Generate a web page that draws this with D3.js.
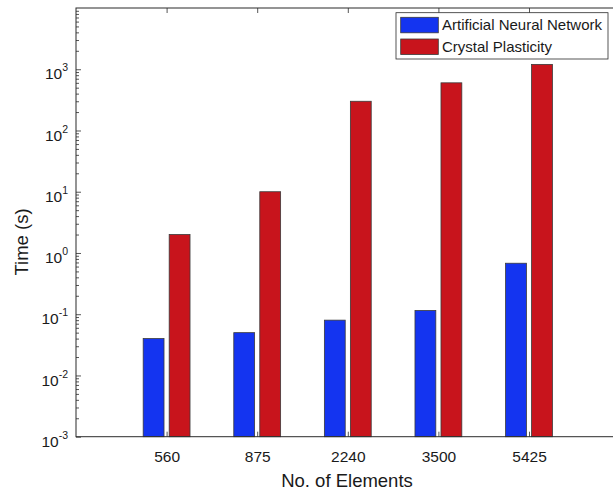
<!DOCTYPE html>
<html>
<head>
<meta charset="utf-8">
<script src="https://cdn.jsdelivr.net/npm/d3@7"></script>
<style>
  html, body { margin: 0; padding: 0; background: #fff; }
  svg { display: block; font-family: "Liberation Sans", Arial, Helvetica, sans-serif; }
</style>
</head>
<body>
<svg id="chart" width="613" height="492"></svg>
<script>
// Run time comparison, log scale
const categories = ["560", "875", "2240", "3500", "5425"];
const seriesNames = ["Artificial Neural Network", "Crystal Plasticity"];
const annTimes = [0.04, 0.05, 0.08, 0.115, 0.68];
const cpTimes = [2, 10, 300, 600, 1200];
const yTickExponents = [-3, -2, -1, 0, 1, 2, 3];

const colors = ["#1434f0", "#c8141c"];
const series = [annTimes, cpTimes];

const svg = d3.select("#chart");
const plotLeft = 76, plotTop = 8, plotBottom = 436.7;
const unit = 90.6;                       // px per category step
const plotRight = plotLeft + 6 * unit;   // box extends past the page edge

const x = d3.scaleLinear().domain([0, 6]).range([plotLeft, plotRight]);
const y = d3.scaleLog().domain([1e-3, 1e4]).range([plotBottom, plotTop]);

const axisColor = "#2b2b2b";

// bars
const barW = 0.23, offs = [-0.1435, 0.1435];
series.forEach((vals, s) => {
  svg.append("g").selectAll("rect")
    .data(vals)
    .join("rect")
    .attr("x", (d, i) => x(i + 1 + offs[s] - barW / 2))
    .attr("width", x(barW) - x(0))
    .attr("y", d => y(d))
    .attr("height", d => y(1e-3) - y(d))
    .attr("fill", colors[s])
    .attr("stroke", "#3a3a3a")
    .attr("stroke-width", 0.8);
});

// minor log ticks on the y axis
const minors = [];
for (let e = -3; e < 4; e++) for (let m = 2; m <= 9; m++) minors.push(m * Math.pow(10, e));
svg.append("g")
  .attr("transform", `translate(${plotLeft},0)`)
  .call(d3.axisLeft(y).tickValues(minors).tickSize(-3).tickFormat(""))
  .call(g => g.select(".domain").remove())
  .call(g => g.selectAll("line").attr("stroke", axisColor).attr("stroke-width", 0.8));

// major y ticks with 10^n labels
const yAxis = svg.append("g")
  .attr("transform", `translate(${plotLeft},0)`)
  .call(d3.axisLeft(y)
    .tickValues(yTickExponents.map(e => Math.pow(10, e)))
    .tickSize(-5).tickPadding(8).tickFormat(""));
yAxis.select(".domain").remove();
yAxis.selectAll("line").attr("stroke", axisColor).attr("stroke-width", 0.8);
yAxis.selectAll(".tick text").each(function (d) {
  const t = d3.select(this)
    .attr("fill", "#1a1a1a")
    .attr("font-size", 15.5)
    .attr("dy", "0.62em")
    .attr("text-anchor", "end");
  t.append("tspan").text("10");
  t.append("tspan").attr("font-size", 10.5).attr("dy", "-0.75em")
    .text(String(Math.round(Math.log10(d))));
});

// x ticks (bottom, pointing up) and top ticks (pointing down)
const xAxis = svg.append("g")
  .attr("transform", `translate(0,${plotBottom})`)
  .call(d3.axisBottom(x).tickValues([1, 2, 3, 4, 5])
    .tickSize(-5).tickPadding(14).tickFormat((d, i) => categories[i]));
xAxis.select(".domain").remove();
xAxis.selectAll("line").attr("stroke", axisColor).attr("stroke-width", 0.8);
xAxis.selectAll("text").attr("font-size", 15.5).attr("fill", "#1a1a1a");

const xTop = svg.append("g")
  .attr("transform", `translate(0,${plotTop})`)
  .call(d3.axisTop(x).tickValues([1, 2, 3, 4, 5]).tickSize(-5).tickFormat(""));
xTop.select(".domain").remove();
xTop.selectAll("line").attr("stroke", axisColor).attr("stroke-width", 0.8);

// box
svg.append("rect")
  .attr("x", plotLeft).attr("y", plotTop)
  .attr("width", plotRight - plotLeft).attr("height", plotBottom - plotTop)
  .attr("fill", "none").attr("stroke", axisColor).attr("stroke-width", 1);

// axis titles
svg.append("text")
  .attr("x", 347).attr("y", 486.5)
  .attr("text-anchor", "middle").attr("font-size", 18.5).attr("fill", "#1a1a1a")
  .text("No. of Elements");

svg.append("text")
  .attr("transform", "translate(28,242) rotate(-90)")
  .attr("text-anchor", "middle").attr("font-size", 18.5).attr("fill", "#1a1a1a")
  .text("Time (s)");

// legend
const lg = svg.append("g");
lg.append("rect")
  .attr("x", 396).attr("y", 12.7).attr("width", 212).attr("height", 46.3)
  .attr("fill", "#fff").attr("stroke", axisColor).attr("stroke-width", 0.8);
seriesNames.forEach((name, i) => {
  const yy = 17.3 + i * 21.7;
  lg.append("rect")
    .attr("x", 400.7).attr("y", yy).attr("width", 37.6).attr("height", 15.5)
    .attr("fill", colors[i]).attr("stroke", "#3a3a3a").attr("stroke-width", 0.8);
  lg.append("text")
    .attr("x", 442).attr("y", yy + 13)
    .attr("font-size", 15).attr("fill", "#1a1a1a")
    .text(name);
});
</script>
</body>
</html>
